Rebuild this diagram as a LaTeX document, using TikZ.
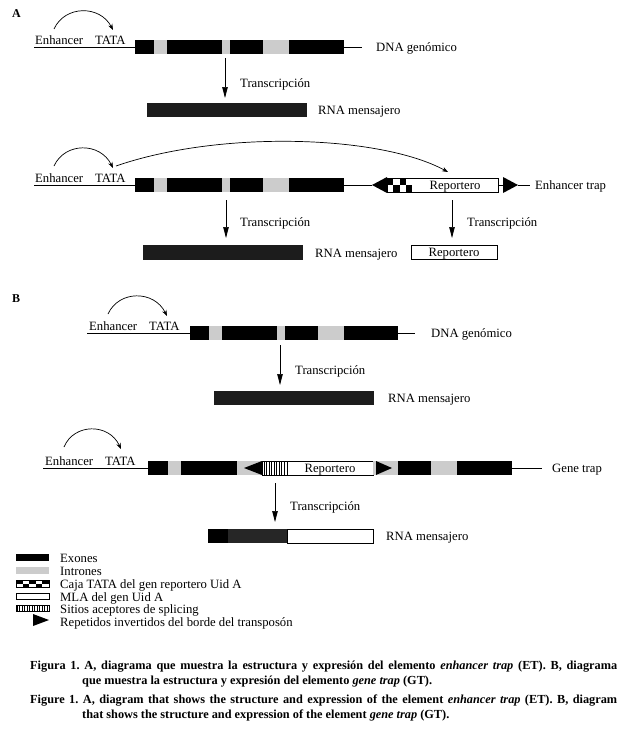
\documentclass[tikz,border=0pt]{standalone}
\usepackage{fontspec}
\setmainfont{Liberation Serif}
\usetikzlibrary{arrows.meta}
\definecolor{introngray}{HTML}{CCCCCC}
\definecolor{rnadark}{HTML}{1C1C1C}
\definecolor{rnamid}{HTML}{262626}
\begin{document}
\begin{tikzpicture}[x=1pt,y=-1pt,
  lbl/.style={font=\fontsize{12.7}{14}\selectfont, inner sep=0pt, anchor=base west},
  ctr/.style={font=\fontsize{12.7}{14}\selectfont, inner sep=0pt, anchor=base},
  panel/.style={font=\fontsize{12}{14}\selectfont\bfseries, inner sep=0pt, anchor=base west},
  capt/.style={anchor=base west, inner sep=0pt,
               font=\fontsize{12.3}{15.5}\selectfont\bfseries\frenchspacing},
  exon/.style={fill=black},
  intr/.style={fill=introngray},
  rnabar/.style={fill=rnadark},
  dna/.style={line width=0.8pt},
  txarrow/.style={line width=0.7pt, -{Triangle[length=11pt,width=5.5pt]}},
  enharrow/.style={line width=0.7pt, -{Stealth[length=6pt,width=4.5pt]}},
  repbox/.style={draw=black, line width=0.9pt},
  hatch/.style={line width=0.45pt},
]
\useasboundingbox (0,0) rectangle (631,736);
\fill[white] (0,0) rectangle (631,736);

% ================= Panel A =================
\node[panel] (pA) at (12,17) {A};

% --- construct 1: genomic DNA
\draw[dna] (34,47) -- (135,47);
\draw[dna] (344,47) -- (362,47);
\fill[exon] (135,40) rectangle (154,54);
\fill[intr] (154,40) rectangle (167,54);
\fill[exon] (167,40) rectangle (222,54);
\fill[intr] (222,40) rectangle (230,54);
\fill[exon] (230,40) rectangle (263,54);
\fill[intr] (263,40) rectangle (289,54);
\fill[exon] (289,40) rectangle (344,54);
\node[lbl] (enh1) at (35,44) {Enhancer};
\node[lbl] (tata1) at (95,44) {TATA};
\node[lbl] (dna1) at (376,51) {DNA genómico};
\coordinate (e1s) at (54,29);
\coordinate (e1e) at (113,30);
\draw[enharrow] (e1s) .. controls (65,5) and (100,5) .. (e1e);

\coordinate (t1s) at (225,58);
\coordinate (t1e) at (225,98);
\draw[txarrow] (t1s) -- (t1e);
\node[lbl] (tx1) at (240,87) {Transcripción};
\fill[rnabar] (147,103) rectangle (307,117);
\node[lbl] (rna1) at (318,114) {RNA mensajero};

% --- construct 2: enhancer trap
\draw[dna] (34,185) -- (135,185);
\draw[dna] (344,185) -- (372,185);
\draw[dna] (498,185) -- (503,185);
\draw[dna] (518,185) -- (530,185);
\fill[exon] (135,178) rectangle (154,192);
\fill[intr] (154,178) rectangle (167,192);
\fill[exon] (167,178) rectangle (222,192);
\fill[intr] (222,178) rectangle (230,192);
\fill[exon] (230,178) rectangle (263,192);
\fill[intr] (263,178) rectangle (289,192);
\fill[exon] (289,178) rectangle (344,192);
\fill (372,185) -- (387,177) -- (387,193) -- cycle;
\fill (503,177) -- (518,185) -- (503,193) -- cycle;
\fill[white] (387,178) rectangle (498,192);
\foreach \i/\j in {0/0,2/0,1/1,3/1}
  \fill (387+\i*6.25,178+\j*7) rectangle ++(6.25,7);
\draw[repbox] (387,178) rectangle (498,192);
\node[ctr] (rep1) at (455,189) {Reportero};
\node[lbl] (et) at (535,189) {Enhancer trap};
\node[lbl] (enh2) at (35,182) {Enhancer};
\node[lbl] (tata2) at (95,182) {TATA};
\coordinate (e2s) at (54,166);
\coordinate (e2e) at (113,168);
\draw[enharrow] (e2s) .. controls (65,142) and (100,142) .. (e2e);
\coordinate (e3s) at (116,166);
\coordinate (e3e) at (448,172);
\draw[enharrow] (e3s) .. controls (220,130) and (380,135) .. (e3e);

\coordinate (t2s) at (226,200);
\coordinate (t2e) at (226,238);
\draw[txarrow] (t2s) -- (t2e);
\node[lbl] (tx2) at (240,226) {Transcripción};
\coordinate (t3s) at (452,200);
\coordinate (t3e) at (452,238);
\draw[txarrow] (t3s) -- (t3e);
\node[lbl] (tx3) at (467,226) {Transcripción};
\fill[rnabar] (143,245) rectangle (303,260);
\node[lbl] (rna2) at (315,257) {RNA mensajero};
\draw[repbox] (411,245) rectangle (497,259);
\node[ctr] (rep2) at (454,256) {Reportero};

% ================= Panel B =================
\node[panel] (pB) at (12,302) {B};

% --- construct 3: genomic DNA
\draw[dna] (87,333) -- (190,333);
\draw[dna] (398,333) -- (415,333);
\fill[exon] (190,326) rectangle (209,340);
\fill[intr] (209,326) rectangle (222,340);
\fill[exon] (222,326) rectangle (277,340);
\fill[intr] (277,326) rectangle (285,340);
\fill[exon] (285,326) rectangle (318,340);
\fill[intr] (318,326) rectangle (344,340);
\fill[exon] (344,326) rectangle (398,340);
\node[lbl] (enh3) at (89,330) {Enhancer};
\node[lbl] (tata3) at (149,330) {TATA};
\node[lbl] (dna3) at (431,337) {DNA genómico};
\coordinate (e4s) at (108,314);
\coordinate (e4e) at (167,316);
\draw[enharrow] (e4s) .. controls (119,290) and (154,290) .. (e4e);

\coordinate (t4s) at (280,345);
\coordinate (t4e) at (280,385);
\draw[txarrow] (t4s) -- (t4e);
\node[lbl] (tx4) at (295,374) {Transcripción};
\fill[rnabar] (214,391) rectangle (374,405);
\node[lbl] (rna3) at (388,402) {RNA mensajero};

% --- construct 4: gene trap
\draw[dna] (43,468) -- (148,468);
\draw[dna] (512,468) -- (542,468);
\fill[exon] (148,461) rectangle (168,475);
\fill[intr] (168,461) rectangle (181,475);
\fill[exon] (181,461) rectangle (237,475);
\fill[intr] (237,461) rectangle (262,475);
\fill (244,468) -- (262,461) -- (262,475) -- cycle;
\fill[white] (262,461) rectangle (373,475);
\foreach \x in {264,266.5,...,286}
  \draw[hatch] (\x,461) -- (\x,475);
\draw[repbox] (262,461) rectangle (373,475);
\draw[hatch] (287,461) -- (287,475);
\node[ctr] (rep3) at (330,472) {Reportero};
\fill[intr] (373,461) rectangle (398,475);
\fill (376,461) -- (392,468) -- (376,475) -- cycle;
\fill[exon] (398,461) rectangle (431,475);
\fill[intr] (431,461) rectangle (457,475);
\fill[exon] (457,461) rectangle (512,475);
\node[lbl] (gt) at (552,472) {Gene trap};
\node[lbl] (enh4) at (45,465) {Enhancer};
\node[lbl] (tata4) at (105,465) {TATA};
\coordinate (e5s) at (64,447);
\coordinate (e5e) at (121,449);
\draw[enharrow] (e5s) .. controls (74,423) and (109,423) .. (e5e);

\coordinate (t5s) at (275,483);
\coordinate (t5e) at (275,522);
\draw[txarrow] (t5s) -- (t5e);
\node[lbl] (tx5) at (290,510) {Transcripción};
\fill[black] (208,529) rectangle (228,543);
\fill[rnamid] (228,529) rectangle (287,543);
\draw[repbox] (287,529) rectangle (373,543);
\node[lbl] (rna4) at (386,540) {RNA mensajero};

% ================= Legend =================
\fill[exon] (16,554) rectangle (49,561);
\node[lbl] (lg1) at (60,562) {Exones};
\fill[intr] (16,567) rectangle (49,574);
\node[lbl] (lg2) at (60,575) {Intrones};
\draw[line width=0.6pt] (16,580) rectangle (49,587);
\foreach \i/\j in {0/0,2/0,4/0,1/1,3/1}
  \fill (16+\i*6.6,580+\j*3.5) rectangle ++(6.6,3.5);
\node[lbl] (lg3) at (60,588) {Caja TATA del gen reportero Uid A};
\draw[line width=0.8pt] (16,593) rectangle (49,599);
\node[lbl] (lg4) at (60,601) {MLA del gen Uid A};
\foreach \x in {17,19.5,...,48}
  \draw[hatch] (\x,605) -- (\x,611);
\draw[line width=0.6pt] (16,605) rectangle (49,611);
\node[lbl] (lg5) at (60,613) {Sitios aceptores de splicing};
\fill (33,614) -- (49,620) -- (33,626) -- cycle;
\node[lbl] (lg6) at (60,626) {Repetidos invertidos del borde del transposón};

% ================= Caption =================
\node[capt] (cap1a) at (30,669) {\makebox[587pt][s]{Figura 1. A, diagrama que muestra la estructura y expresión del elemento \textit{enhancer trap} (ET). B, diagrama}};
\node[capt] (cap1b) at (82,684) {que muestra la estructura y expresión del elemento \textit{gene trap} (GT).};
\node[capt] (cap2a) at (30,703) {\makebox[587pt][s]{Figure 1. A, diagram that shows the structure and expression of the element \textit{enhancer trap} (ET). B, diagram}};
\node[capt] (cap2b) at (82,718) {that shows the structure and expression of the element \textit{gene trap} (GT).};
\end{tikzpicture}
\end{document}
